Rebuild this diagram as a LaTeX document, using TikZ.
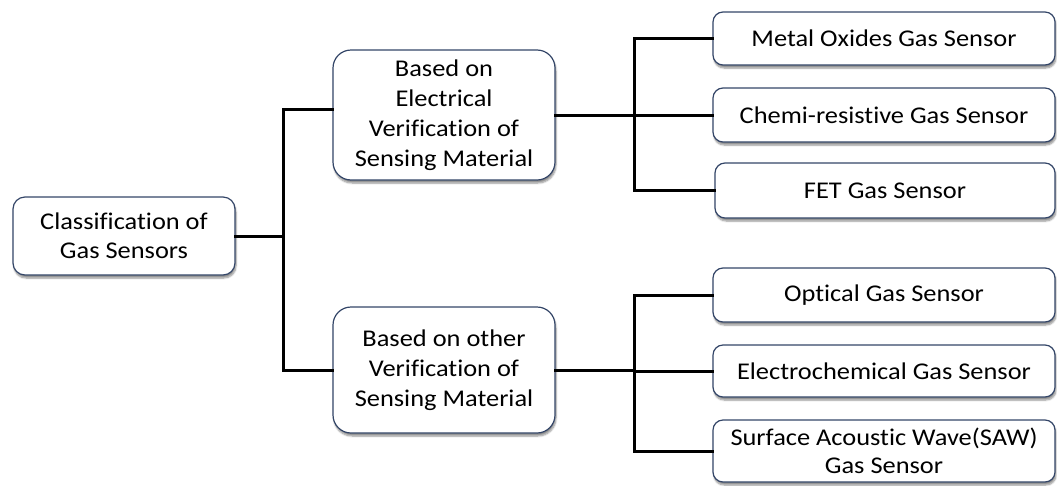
\documentclass[tikz,border=0pt]{standalone}
\usepackage{fontspec}
\newfontfamily\boxfont[FakeStretch=1.1, Ligatures={NoCommon}]{Carlito}
\usetikzlibrary{shadows.blur}
\definecolor{boxedge}{RGB}{52,70,104}
\tikzset{
  box/.style={draw=boxedge, line width=1.2pt, fill=white, align=center,
    inner sep=0pt, font=\boxfont\fontsize{24}{30}\selectfont,
    blur shadow={shadow xshift=1pt, shadow yshift=-3pt, shadow blur steps=6,
      shadow blur extra rounding=2pt, shadow opacity=45}},
  rootbox/.style={box, rounded corners=12pt, minimum width=222pt, minimum height=78pt},
  midbox/.style={box, rounded corners=18pt, minimum width=222pt},
  leafbox/.style={box, rounded corners=10pt},
  conn/.style={line width=3pt, black, line cap=rect}
}
\begin{document}
\begin{tikzpicture}[x=1pt, y=-1pt]
  \useasboundingbox (0,0) rectangle (1057,485);

  % classification tree
  \node[rootbox] (root) at (124,236) {Classification of\\[-1pt]Gas Sensors};
  \node[midbox, minimum height=130pt] (elec) at (444,115)
    {Based on\\Electrical\\Verification of\\Sensing Material};
  \node[midbox, minimum height=126pt] (other) at (444,370)
    {Based on other\\Verification of\\Sensing Material};

  \node[leafbox, minimum width=342pt, minimum height=53pt] (mox) at (884,38.5)
    {Metal Oxides Gas Sensor};
  \node[leafbox, minimum width=342pt, minimum height=54pt] (chem) at (884,115)
    {Chemi-resistive Gas Sensor};
  \node[leafbox, minimum width=340pt, minimum height=55pt] (fet) at (885,190.5)
    {FET Gas Sensor};
  \node[leafbox, minimum width=342pt, minimum height=54pt] (opt) at (884,295)
    {Optical Gas Sensor};
  \node[leafbox, minimum width=342pt, minimum height=52pt] (echem) at (884,371)
    {Electrochemical Gas Sensor};
  \node[leafbox, minimum width=342pt, minimum height=62pt] (saw) at (884,451)
    {Surface Acoustic Wave(SAW)\\[-2pt]Gas Sensor};

  % junction lines
  \coordinate (j1) at (283,0);
  \coordinate (j2) at (634,0);

  \draw[conn] (root.east) -- (root.east -| j1);
  \draw[conn] ([yshift=6pt]elec.west) -| (j1 |- other.west) -- (other.west);

  \draw[conn] (elec.east) -- (elec.east -| j2);
  \draw[conn] (mox.west) -| (j2 |- fet.west) -- (fet.west);
  \draw[conn] (chem.west) -- (chem.west -| j2);

  \draw[conn] (other.east) -- (other.east -| j2);
  \draw[conn] (opt.west) -| (j2 |- saw.west) -- (saw.west);
  \draw[conn] (echem.west) -- (echem.west -| j2);
\end{tikzpicture}
\end{document}
